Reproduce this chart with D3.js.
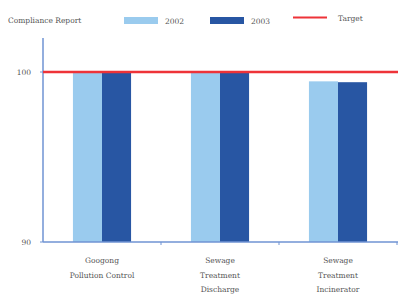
<!DOCTYPE html>
<html>
<head>
<meta charset="utf-8">
<script src="https://cdn.jsdelivr.net/npm/d3@7"></script>
<style>
  body { margin: 0; background: #fff; }
  text { font-family: "DejaVu Serif", serif; fill: #555; }
</style>
</head>
<body>
<svg width="398" height="296"></svg>
<script>
const categories = [
  ['Googong', 'Pollution Control'],
  ['Sewage', 'Treatment', 'Discharge'],
  ['Sewage', 'Treatment', 'Incinerator']
];
const series = ['2002', '2003'];
const values2002 = [100, 100, 99.45];
const values2003 = [100, 100, 99.4];
const target = 100;
const yTicks = [90, 100];

const svg = d3.select('svg');
const margin = { left: 43, right: 1, top: 38, bottom: 54 };
const width = 398, height = 296;
const colors = { '2002': '#9acbee', '2003': '#2856a3' };
const axisColor = '#6f93d3';

const x = d3.scaleBand()
  .domain(d3.range(categories.length))
  .range([margin.left, width - margin.right])
  .paddingInner(0)
  .paddingOuter(0);
const xSub = d3.scaleBand().domain(series).range([0, x.bandwidth()]).paddingOuter(1.03);
const y = d3.scaleLinear().domain([90, 102]).range([height - margin.bottom, margin.top]);

// bars
const rows = categories.map((c, i) => ({ i, '2002': values2002[i], '2003': values2003[i] }));
const g = svg.append('g');
g.selectAll('g.cat')
  .data(rows)
  .join('g')
  .attr('transform', (d) => `translate(${x(d.i)},0)`)
  .selectAll('rect')
  .data((d) => series.map((s) => ({ s, v: d[s] })))
  .join('rect')
  .attr('x', (d) => xSub(d.s))
  .attr('width', xSub.bandwidth())
  .attr('y', (d) => y(d.v))
  .attr('height', (d) => y(90) - y(d.v))
  .attr('fill', (d) => colors[d.s]);

// y axis
svg.append('line')
  .attr('x1', margin.left).attr('x2', margin.left)
  .attr('y1', margin.top).attr('y2', y(90))
  .attr('stroke', axisColor).attr('stroke-width', 1.5);
svg.selectAll('.ytick')
  .data(yTicks)
  .join('line')
  .attr('x1', margin.left - 3).attr('x2', margin.left)
  .attr('y1', (d) => y(d)).attr('y2', (d) => y(d))
  .attr('stroke', axisColor);
svg.selectAll('.ylab')
  .data(yTicks)
  .join('text')
  .attr('x', margin.left - 12)
  .attr('y', (d) => y(d) + 3)
  .attr('text-anchor', 'end')
  .attr('font-size', 7.5)
  .text((d) => d);

// x axis
svg.append('line')
  .attr('x1', margin.left).attr('x2', width)
  .attr('y1', y(90)).attr('y2', y(90))
  .attr('stroke', axisColor).attr('stroke-width', 1.5);
svg.selectAll('.xtick')
  .data(d3.range(1, categories.length + 1))
  .join('line')
  .attr('x1', (d) => margin.left + d * x.bandwidth())
  .attr('x2', (d) => margin.left + d * x.bandwidth())
  .attr('y1', y(90)).attr('y2', y(90) + 3)
  .attr('stroke', axisColor);

const labels = svg.selectAll('.xlab')
  .data(categories)
  .join('text')
  .attr('text-anchor', 'middle')
  .attr('font-size', 7.5)
  .attr('transform', (d, i) => `translate(${x(i) + x.bandwidth() / 2},${y(90) + 21})`);
labels.selectAll('tspan')
  .data((d) => d)
  .join('tspan')
  .attr('x', 0)
  .attr('dy', (d, j) => (j === 0 ? 0 : 14.5))
  .text((d) => d);

// target line
svg.append('line')
  .attr('x1', margin.left).attr('x2', width)
  .attr('y1', y(target)).attr('y2', y(target))
  .attr('stroke', '#ee3338').attr('stroke-width', 2.5);

// legend
svg.append('text').attr('x', 8).attr('y', 23).attr('font-size', 7.5).text('Compliance Report');
const legend = [
  { key: '2002', x: 124, type: 'rect' },
  { key: '2003', x: 210, type: 'rect' },
  { key: 'Target', x: 293, type: 'line' }
];
legend.forEach((l) => {
  if (l.type === 'rect') {
    svg.append('rect').attr('x', l.x).attr('y', 17).attr('width', 34).attr('height', 7)
      .attr('fill', colors[l.key]);
  } else {
    svg.append('line').attr('x1', l.x).attr('x2', l.x + 34).attr('y1', 17.5).attr('y2', 17.5)
      .attr('stroke', '#ee3338').attr('stroke-width', 2);
  }
  svg.append('text').attr('x', l.x + (l.type === 'rect' ? 41 : 45)).attr('y', l.type === 'rect' ? 24 : 21)
    .attr('font-size', 7.5).text(l.key);
});
</script>
</body>
</html>
